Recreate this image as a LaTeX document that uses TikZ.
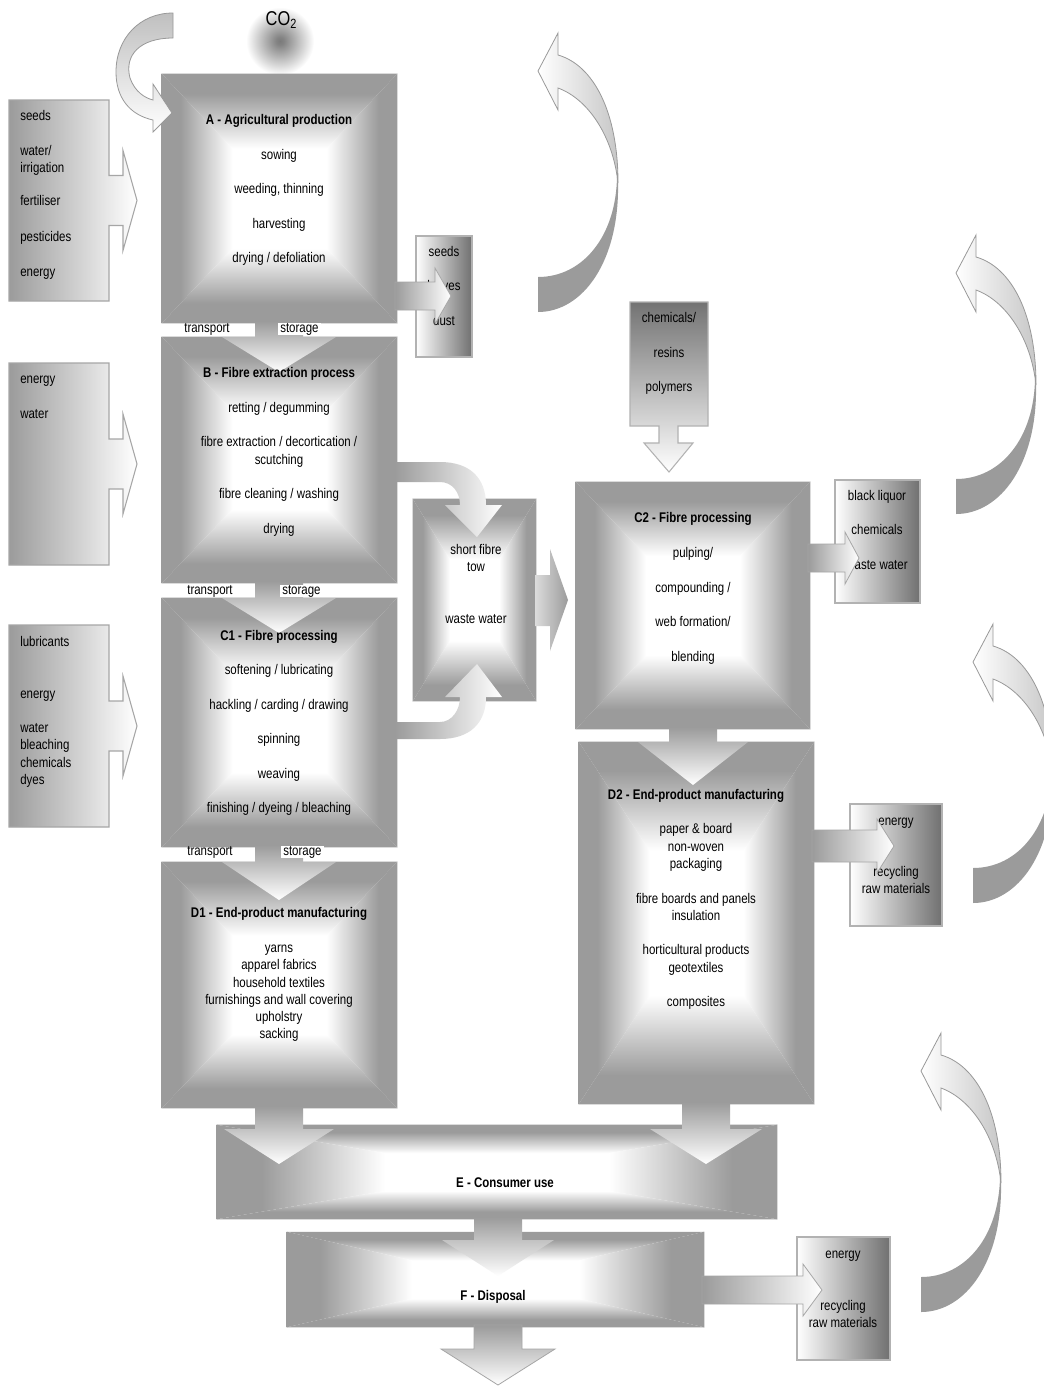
\documentclass[tikz,border=0pt]{standalone}
\usepackage{fontspec}
\setmainfont{Liberation Sans}[FakeStretch=0.82]
\usetikzlibrary{calc}
\definecolor{bgray}{RGB}{155,155,155}
\definecolor{dgray}{RGB}{112,112,112}
\pgfdeclareverticalshading{pillowt}{100bp}{color(0bp)=(white); color(45bp)=(white); color(67bp)=(bgray); color(100bp)=(bgray)}
\pgfdeclareverticalshading{pillowb}{100bp}{color(0bp)=(bgray); color(33bp)=(bgray); color(55bp)=(white); color(100bp)=(white)}
\pgfdeclarehorizontalshading{pillowl}{100bp}{color(0bp)=(bgray); color(33bp)=(bgray); color(55bp)=(white); color(100bp)=(white)}
\pgfdeclarehorizontalshading{pillowr}{100bp}{color(0bp)=(white); color(45bp)=(white); color(67bp)=(bgray); color(100bp)=(bgray)}
\pgfdeclareradialshading{glow}{\pgfpoint{0bp}{0bp}}{color(0bp)=(black!52); color(3bp)=(black!48); color(25bp)=(white); color(50bp)=(white)}
\newcommand\myfs{\fontsize{10.5}{12.9}\selectfont}
\tikzset{
  boxnode/.style={rectangle, inner sep=0pt},
  txt/.style={inner sep=0pt, font=\myfs, text height=7.5pt, text depth=2.2pt, yshift=-1.5pt},
  ttl/.style={txt, font=\myfs\bfseries},
  lt/.style={txt, anchor=west},
  lab/.style={inner sep=0pt, font=\myfs, text height=6.8pt, text depth=2pt},
  darr/.style={top color=bgray, bottom color=white},
  harr/.style={left color=bgray, right color=white, draw=black!35, line width=0.6pt},
  outbox/.style={left color=white, right color=dgray, draw=black!30, line width=0.8pt},
  inbox/.style={left color=bgray, right color=white, draw=black!35, line width=0.8pt},
  curvearr/.style={left color=bgray, right color=white},
}
\newcommand\pillowbox[1]{%
 \shade[shading=pillowt] (#1.north west) -- (#1.north east) -- (#1.center) -- cycle;
 \shade[shading=pillowb] (#1.south west) -- (#1.south east) -- (#1.center) -- cycle;
 \shade[shading=pillowl] (#1.north west) -- (#1.south west) -- (#1.center) -- cycle;
 \shade[shading=pillowr] (#1.north east) -- (#1.south east) -- (#1.center) -- cycle;}
% cx, ytop, ybase, ytip, stemhalf, headhalf, style
\newcommand\dnarrow[7]{\shade[#7] ({#1-#5},#2) -- ({#1+#5},#2) -- ({#1+#5},#3) -- ({#1+#6},#3) -- (#1,#4) -- ({#1-#6},#3) -- ({#1-#5},#3) -- cycle;}
% cy, xleft, xbase, xtip, shafthalf, headhalf, style
\newcommand\rtarrow[7]{\shade[#7] (#2,{#1-#5}) -- (#3,{#1-#5}) -- (#3,{#1-#6}) -- (#4,#1) -- (#3,{#1+#6}) -- (#3,{#1+#5}) -- (#2,{#1+#5}) -- cycle;}
\newcommand\incallout[2]{\shade[inbox] (9,#1) -- (109,#1) -- (109,{(#1+#2)/2-25}) -- (123,{(#1+#2)/2-25}) -- (123,{(#1+#2)/2-50}) -- (137,{(#1+#2)/2}) -- (123,{(#1+#2)/2+50}) -- (123,{(#1+#2)/2+25}) -- (109,{(#1+#2)/2+25}) -- (109,#2) -- (9,#2) -- cycle;}
\newcommand\backarrow[2]{%
\fill[bgray] ({#1+80},{#2+110}) .. controls ({#1+82},{#2+190}) and ({#1+45},{#2+241}) .. (#1,{#2+241}) -- (#1,{#2+206}) .. controls ({#1+45},{#2+206}) and ({#1+78},{#2+165}) .. ({#1+79},{#2+106}) -- cycle;
\shade[left color=white, right color=black!22, draw=black!40, line width=0.6pt] ({#1+20},{#2-16}) .. controls ({#1+55},{#2-6}) and ({#1+80},{#2+40}) .. ({#1+80},{#2+112}) .. controls ({#1+75},{#2+65}) and ({#1+50},{#2+28}) .. ({#1+20},{#2+17}) -- ({#1+20},{#2+39}) -- (#1,#2) -- ({#1+20},{#2-38}) -- cycle;}
\begin{document}
\begin{tikzpicture}[x=0.75pt,y=-0.75pt]
\fill[white] (0,0) rectangle (1044,1386);
\useasboundingbox (0,0) rectangle (1044,1386);

% CO2
\shade[shading=glow] (280,41) circle (34);
\node[inner sep=0pt] (co2) at (281,20) {\fontsize{15}{17}\selectfont CO\raisebox{-0.35ex}{\fontsize{10}{11}\selectfont 2}};

% recycling curved arrows
\backarrow{538}{71}
\backarrow{956}{273}
\backarrow{973}{662}
\backarrow{921}{1071}

% main boxes
\node[boxnode, minimum width=176.25pt, minimum height=186.75pt] (A) at (279.5,198.5) {};
\node[boxnode, minimum width=176.25pt, minimum height=184.5pt] (B) at (279.5,460) {};
\node[boxnode, minimum width=176.25pt, minimum height=186.75pt] (C1) at (279.5,722.5) {};
\node[boxnode, minimum width=176.25pt, minimum height=184.5pt] (D1) at (279.5,985) {};
\node[boxnode, minimum width=175.5pt, minimum height=185.25pt] (C2) at (693,605.5) {};
\node[boxnode, minimum width=176.25pt, minimum height=271.5pt] (D2) at (696.5,923) {};
\node[boxnode, minimum width=420pt, minimum height=70.5pt] (E) at (497,1172) {};
\node[boxnode, minimum width=312.75pt, minimum height=71.25pt] (F) at (495.5,1279.5) {};
\node[boxnode, minimum width=92.25pt, minimum height=151.5pt] (SF) at (474.5,600) {};
\pillowbox{A}\pillowbox{B}\pillowbox{C1}\pillowbox{D1}\pillowbox{C2}\pillowbox{D2}\pillowbox{E}\pillowbox{F}\pillowbox{SF}
\shade[left color=white!65!bgray, right color=bgray] (535,575) -- (550,575) -- (550,549) -- (568,600) -- (550,651) -- (550,626) -- (535,626) -- cycle;

% CO2 uptake arrow
\shade[top color=black!25, bottom color=white, draw=black!40, line width=0.6pt] (173,13) -- (173,38) .. controls (140,38) and (124,55) .. (130,78) .. controls (135,92) and (145,98) .. (153,100) -- (153,84) -- (172,113) -- (153,132) -- (153,120) .. controls (130,115) and (116,98) .. (116,72) .. controls (116,38) and (140,13) .. (173,13) -- cycle;

% input callouts
\incallout{100}{301}
\incallout{363}{565}
\incallout{625}{827}
\shade[top color=black!55, bottom color=white, draw=black!30, line width=0.8pt] (630,302) -- (708,302) -- (708,426) -- (678,426) -- (678,443) -- (693,443) -- (669,472) -- (644,443) -- (659,443) -- (659,426) -- (630,426) -- cycle;

\node[lt] (i1) at (20,115) {seeds};
\node[lt] (i2) at (20,150) {water/};
\node[lt] (i3) at (20,167) {irrigation};
\node[lt] (i4) at (20,200) {fertiliser};
\node[lt] (i5) at (20,236) {pesticides};
\node[lt] (i6) at (20,271) {energy};
\node[lt] (j1) at (20,378) {energy};
\node[lt] (j2) at (20,413) {water};
\node[lt] (k1) at (20,641) {lubricants};
\node[lt] (k2) at (20,693) {energy};
\node[lt] (k3) at (20,727) {water};
\node[lt] (k4) at (20,744) {bleaching};
\node[lt] (k5) at (20,762) {chemicals};
\node[lt] (k6) at (20,779) {dyes};
\node[txt] (ch1) at (669,317) {chemicals/};
\node[txt] (ch2) at (669,352) {resins};
\node[txt] (ch3) at (669,386) {polymers};

% output boxes
\shade[outbox] (416,236) rectangle (472,357);
\shade[outbox] (835,480) rectangle (920,603);
\shade[outbox] (850,804) rectangle (942,926);
\shade[outbox] (797,1237) rectangle (890,1360);
\node[txt] (o1) at (444,251) {seeds};
\node[txt] (o2) at (444,285) {leaves};
\node[txt] (o3) at (444,320) {dust};
\node[txt] (p1) at (877,495) {black liquor};
\node[txt] (p2) at (877,529) {chemicals};
\node[txt] (p3) at (877,564) {waste water};
\node[txt] (q1) at (896,820) {energy};
\node[txt] (q2) at (896,871) {recycling};
\node[txt] (q3) at (896,888) {raw materials};
\node[txt] (r1) at (843,1253) {energy};
\node[txt] (r2) at (843,1305) {recycling};
\node[txt] (r3) at (843,1322) {raw materials};

% flow arrows
\dnarrow{279}{321}{337}{372}{24}{57}{darr}
\dnarrow{279}{581}{598}{633}{24}{57}{darr}
\dnarrow{279}{845}{862}{900}{24}{57}{darr}
\dnarrow{693}{727}{742}{785}{24}{55}{darr}
\dnarrow{279}{1106}{1129}{1164}{24}{55}{darr}
\dnarrow{706}{1102}{1129}{1164}{24}{56}{darr}
\dnarrow{498}{1217}{1240}{1276}{24}{56}{darr}
\dnarrow{498}{1325}{1349}{1385}{24}{57}{darr, draw=black!35, line width=0.6pt}
\rtarrow{296}{395}{435}{451}{14}{28}{harr}
\rtarrow{558}{808}{845}{859}{14}{26}{harr}
\rtarrow{846}{812}{877}{894}{16}{27}{harr}
\rtarrow{1290}{702}{803}{822}{14}{26}{harr}
\shade[curvearr] (395,462) -- (440,462) .. controls (470,462) and (486,478) .. (486,505) -- (502,505) -- (477,537) -- (445,505) -- (460,505) .. controls (460,492) and (452,482) .. (440,482) -- (395,482) -- cycle;
\shade[curvearr] (395,739) -- (440,739) .. controls (470,739) and (486,723) .. (486,697) -- (502,697) -- (477,664) -- (445,697) -- (460,697) .. controls (460,710) and (452,722) .. (440,722) -- (395,722) -- cycle;

% transport / storage labels
\node[lab] (tr1) at (207,329) {transport};
\node[lab, anchor=west, fill=white, inner xsep=1.5pt] (st1) at (278,329) {storage};
\node[lab] (tr2) at (210,591) {transport};
\node[lab, anchor=west, fill=white, inner xsep=1.5pt] (st2) at (280,591) {storage};
\node[lab] (tr3) at (210,852) {transport};
\node[lab, anchor=west, fill=white, inner xsep=1.5pt] (st3) at (281,852) {storage};

% A
\node[ttl] (a0) at (279,119) {A - Agricultural production};
\node[txt] (a1) at (279,154) {sowing};
\node[txt] (a2) at (279,188) {weeding, thinning};
\node[txt] (a3) at (279,223) {harvesting};
\node[txt] (a4) at (279,257) {drying / defoliation};
% B
\node[ttl] (b0) at (279,372) {B - Fibre extraction process};
\node[txt] (b1) at (279,407) {retting / degumming};
\node[txt] (b2) at (279,441) {fibre extraction / decortication /};
\node[txt] (b3) at (279,459) {scutching};
\node[txt] (b4) at (279,493) {fibre cleaning / washing};
\node[txt] (b5) at (279,528) {drying};
% C1
\node[ttl] (c0) at (279,635) {C1 - Fibre processing};
\node[txt] (c1) at (279,669) {softening / lubricating};
\node[txt] (c2) at (279,704) {hackling / carding / drawing};
\node[txt] (c3) at (279,738) {spinning};
\node[txt] (c4) at (279,773) {weaving};
\node[txt] (c5) at (279,807) {finishing / dyeing / bleaching};
% D1
\node[ttl] (d0) at (279,912) {D1 - End-product manufacturing};
\node[txt] (d1) at (279,947) {yarns};
\node[txt] (d2) at (279,964) {apparel fabrics};
\node[txt] (d3) at (279,982) {household textiles};
\node[txt] (d4) at (279,999) {furnishings and wall covering};
\node[txt] (d5) at (279,1016) {upholstry};
\node[txt] (d6) at (279,1033) {sacking};
% short fibre
\node[txt] (s1) at (476,549) {short fibre};
\node[txt] (s2) at (476,566) {tow};
\node[txt] (s3) at (476,618) {waste water};
% C2
\node[ttl] (e0) at (693,517) {C2 - Fibre processing};
\node[txt] (e1) at (693,552) {pulping/};
\node[txt] (e2) at (693,587) {compounding /};
\node[txt] (e3) at (693,621) {web formation/};
\node[txt] (e4) at (693,656) {blending};
% D2
\node[ttl] (f0) at (696,794) {D2 - End-product manufacturing};
\node[txt] (f1) at (696,828) {paper \& board};
\node[txt] (f2) at (696,846) {non-woven};
\node[txt] (f3) at (696,863) {packaging};
\node[txt] (f4) at (696,898) {fibre boards and panels};
\node[txt] (f5) at (696,915) {insulation};
\node[txt] (f6) at (696,949) {horticultural products};
\node[txt] (f7) at (696,967) {geotextiles};
\node[txt] (f8) at (696,1001) {composites};
% E, F
\node[ttl] (g0) at (505,1182) {E - Consumer use};
\node[ttl] (h0) at (493,1295) {F - Disposal};
\end{tikzpicture}
\end{document}
